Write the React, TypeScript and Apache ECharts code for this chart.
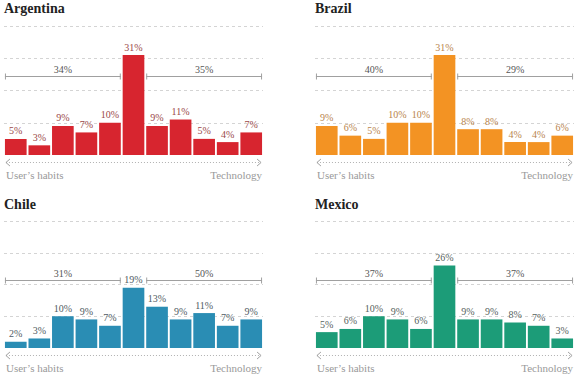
import React, { useEffect, useRef } from "react";
import * as echarts from "echarts";

// Eleven positions on the scale from user's habits to technology
const slots = ["1", "2", "3", "4", "5", "6", "7", "8", "9", "10", "11"];

const argentinaShares = [5, 3, 9, 7, 10, 31, 9, 11, 5, 4, 7];
const brazilShares = [9, 6, 5, 10, 10, 31, 8, 8, 4, 4, 6];
const chileShares = [2, 3, 10, 9, 7, 19, 13, 9, 11, 7, 9];
const mexicoShares = [5, 6, 10, 9, 6, 26, 9, 9, 8, 7, 3];

// Totals for the habits side (first five) and the technology side (last five)
const argentinaGroups = [34, 35];
const brazilGroups = [40, 29];
const chileGroups = [31, 50];
const mexicoGroups = [37, 37];

const scaleEnds = ["User’s habits", "Technology"];

const SERIF = "Liberation Serif";

export default function App() {
  const ref = useRef<HTMLDivElement>(null);

  useEffect(() => {
    if (!ref.current) return;
    const chart = echarts.init(ref.current, null, { renderer: "svg" });

    const panels = [
      { name: "Argentina", values: argentinaShares, groups: argentinaGroups, color: "#d7252f", label: "#9a4848", left: 4, top: 26, height: 129, titleY: 8, bracket: 24.5 },
      { name: "Brazil", values: brazilShares, groups: brazilGroups, color: "#f39323", label: "#b8844c", left: 315, top: 26, height: 129, titleY: 8, bracket: 24.5 },
      { name: "Chile", values: chileShares, groups: chileGroups, color: "#2a8db4", label: "#505b63", left: 4, top: 221, height: 127, titleY: 204, bracket: 21.5 },
      { name: "Mexico", values: mexicoShares, groups: mexicoGroups, color: "#1c9c78", label: "#56625d", left: 315, top: 221, height: 127, titleY: 204, bracket: 21.5 },
    ];
    const gapRatio = 0.08;

    chart.setOption({
      animation: false,
      grid: panels.map((p) => ({ left: p.left, top: p.top, width: 259, height: p.height })),
      xAxis: panels.map((p, i) => ({
        type: "category",
        gridIndex: i,
        data: slots,
        show: false,
      })),
      yAxis: panels.map((p, i) => ({
        type: "value",
        gridIndex: i,
        min: 0,
        max: 40,
        interval: 10,
        axisLabel: { show: false },
        axisLine: { show: false },
        axisTick: { show: false },
        splitLine: {
          show: true,
          showMinLine: false,
          lineStyle: { color: "#d4d4d4", type: [3, 3], width: 1 },
        },
      })),
      series: panels.map((p, i) => ({
        type: "bar",
        name: p.name,
        xAxisIndex: i,
        yAxisIndex: i,
        data: p.values,
        barCategoryGap: gapRatio * 100 + "%",
        itemStyle: { color: p.color },
        label: {
          show: true,
          position: "top",
          distance: 3,
          formatter: "{c}%",
          fontFamily: SERIF,
          fontSize: 10,
          color: p.label,
        },
      })),
    });

    const graphics: any[] = [];
    const txt = (text: string, x: number, y: number, size: number, weight: string, fill: string, align: string) => ({
      type: "text",
      silent: true,
      style: {
        text,
        x,
        y,
        fontFamily: SERIF,
        fontSize: size,
        fontWeight: weight,
        fill,
        textAlign: align,
        textVerticalAlign: "middle",
        align,
        verticalAlign: "middle",
      },
    });
    const seg = (x1: number, y1: number, x2: number, y2: number, stroke: string, dash?: number[]) => ({
      type: "line",
      silent: true,
      shape: { x1, y1, x2, y2 },
      style: { stroke, lineWidth: 1, lineDash: dash },
    });

    panels.forEach((p, i) => {
      const at = (x: number, y: number) => chart.convertToPixel({ gridIndex: i }, [x, y]) as number[];
      const c0 = at(0, 0);
      const c1 = at(1, 0);
      const band = c1[0] - c0[0];
      const half = (band * (1 - gapRatio)) / 2;
      const baseY = c0[1];
      const leftX = at(0, 0)[0] - half;
      const rightX = at(10, 0)[0] + half;

      // panel title
      graphics.push(txt(p.name, p.left, p.titleY, 14, "bold", "#222222", "left"));

      // brackets over the two sides of the scale
      const by = Math.round(at(0, p.bracket)[1]) + 0.5;
      const spans = [
        [at(0, 0)[0] - half, at(4, 0)[0] + half],
        [at(6, 0)[0] - half, at(10, 0)[0] + half],
      ];
      spans.forEach(([a, b], k) => {
        graphics.push(seg(a, by, b, by, "#a0a0a0"));
        graphics.push(seg(a + 0.5, by - 3, a + 0.5, by + 3, "#a0a0a0"));
        graphics.push(seg(b - 0.5, by - 3, b - 0.5, by + 3, "#a0a0a0"));
        graphics.push(txt(p.groups[k] + "%", (a + b) / 2, by - 7, 10, "normal", "#555555", "center"));
      });

      // dotted scale arrow beneath the bars
      const ay = Math.round(baseY + 7) + 0.5;
      graphics.push(seg(leftX + 1, ay, rightX - 1, ay, "#b0b0b0", [1, 2]));
      graphics.push({
        type: "polyline",
        silent: true,
        shape: { points: [[leftX + 5, ay - 3.5], [leftX + 1, ay], [leftX + 5, ay + 3.5]] },
        style: { stroke: "#a0a0a0", lineWidth: 1, fill: null },
      });
      graphics.push({
        type: "polyline",
        silent: true,
        shape: { points: [[rightX - 5, ay - 3.5], [rightX - 1, ay], [rightX - 5, ay + 3.5]] },
        style: { stroke: "#a0a0a0", lineWidth: 1, fill: null },
      });
      graphics.push(txt(scaleEnds[0], leftX + 1, baseY + 20, 11, "normal", "#999999", "left"));
      graphics.push(txt(scaleEnds[1], rightX, baseY + 20, 11, "normal", "#999999", "right"));
    });

    chart.setOption({ graphic: { elements: graphics } });

    return () => chart.dispose();
  }, []);

  return (
    <div
      ref={ref}
      style={{ position: "absolute", left: 0, top: 0, width: 583, height: 380, background: "#ffffff" }}
    />
  );
}
